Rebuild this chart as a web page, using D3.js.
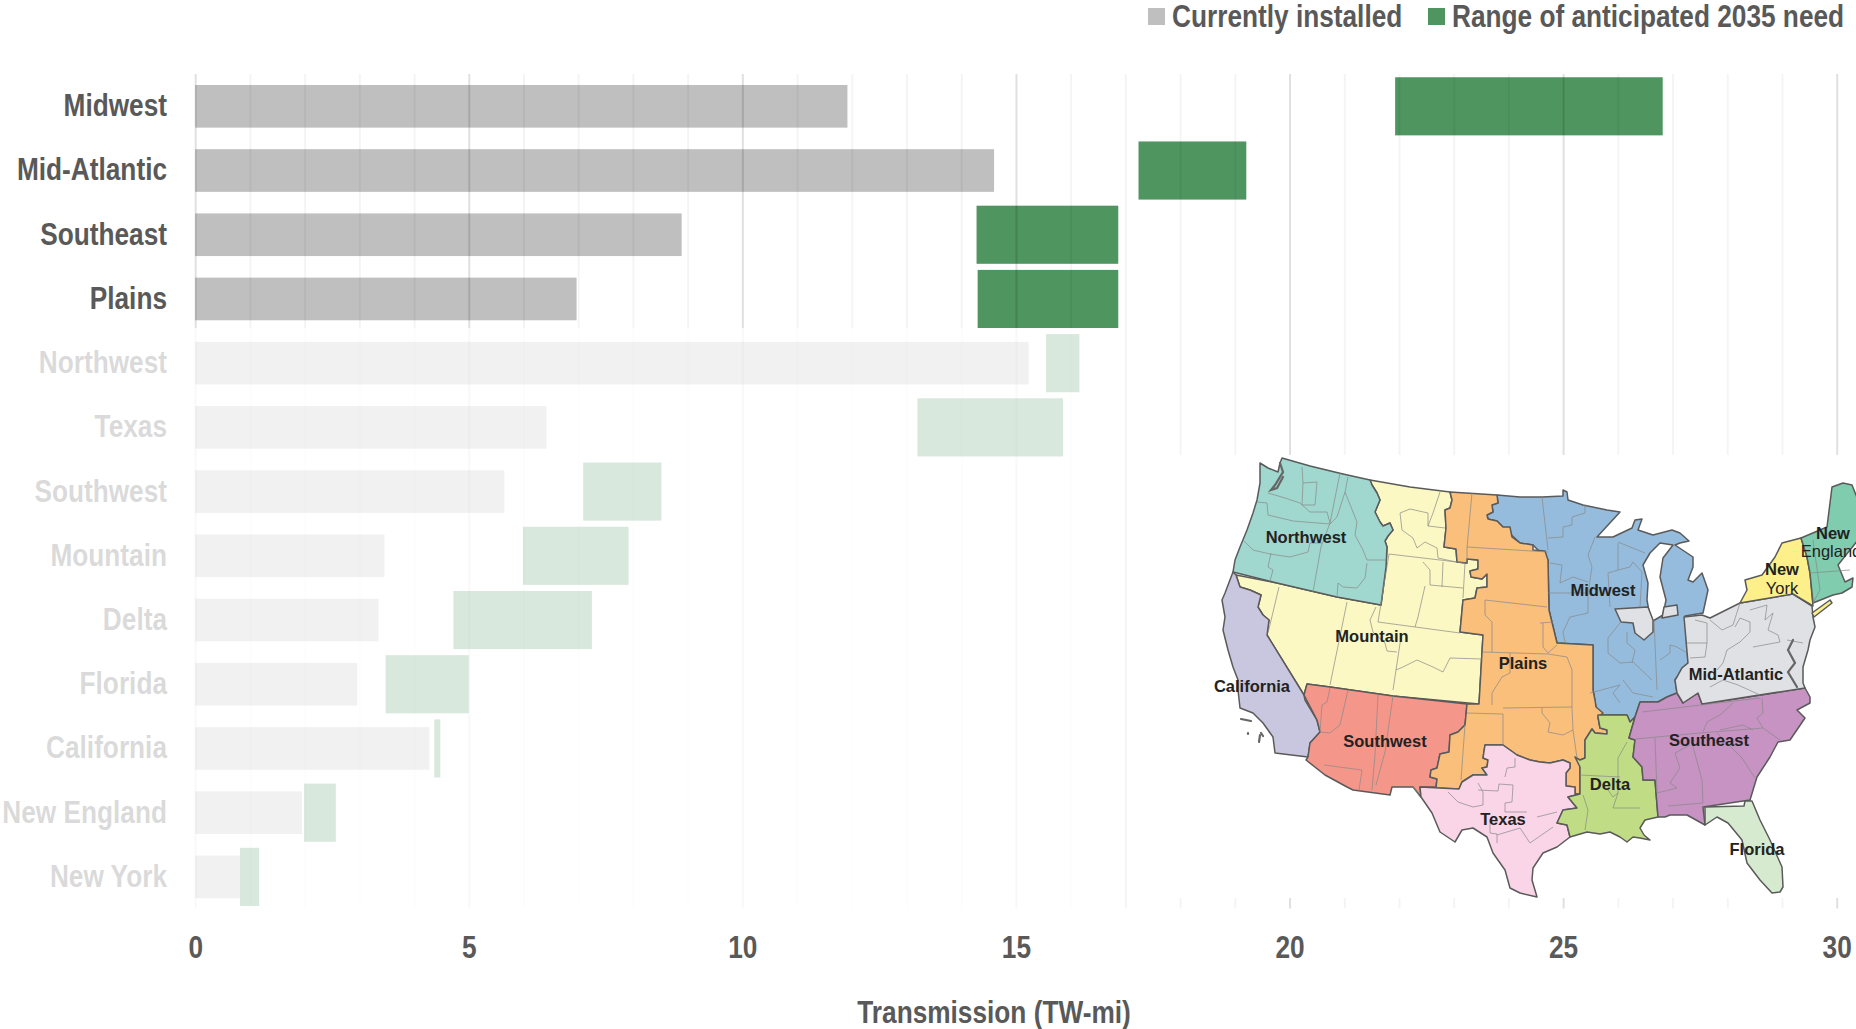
<!DOCTYPE html>
<html>
<head>
<meta charset="utf-8">
<script src="https://cdn.jsdelivr.net/npm/d3@7"></script>
<style>
  html, body { margin: 0; padding: 0; background: #fff; overflow: hidden; }
  text { font-family: "Liberation Sans", Arial, sans-serif; font-weight: 700; fill: #595959; font-size: 32px; }
  .axis path, .axis line { display: none; }
  .grid path { display: none; }
  text.map-label { font-size: 16.5px; fill: #222; }
</style>
</head>
<body>
<div id="chart"></div>
<script>
// bar data (TW-mi)
var regions = ["Midwest", "Mid-Atlantic", "Southeast", "Plains", "Northwest", "Texas", "Southwest", "Mountain", "Delta", "Florida", "California", "New England", "New York"];
var installed = [11.92, 14.6, 8.89, 6.97, 15.23, 6.42, 5.65, 3.46, 3.35, 2.96, 4.28, 1.95, 0.82];
var needLow = [21.93, 17.24, 14.28, 14.3, 15.55, 13.2, 7.09, 5.99, 4.72, 3.48, 4.37, 1.99, 0.82];
var needHigh = [26.82, 19.21, 16.87, 16.87, 16.16, 15.86, 8.52, 7.92, 7.25, 5.0, 4.48, 2.57, 1.17];
var xTicks = [0, 5, 10, 15, 20, 25, 30];
var legendNames = ["Currently installed", "Range of anticipated 2035 need"];

// inset map outlines, in map units (drawn in this order, later ones on top)
var mapMountain = [[170,40],[210,47],[250,52],[252,60],[250,68],[245,70],[246,88],[244,107],[256,109],[257,122],[267,123],[267,119],[278,120],[278,129],[270,131],[271,137],[282,139],[287,134],[287,147],[277,148],[275,158],[263,160],[260,192],[283,195],[279,264],[193,256],[130,247],[107,244],[104,255],[67,195],[69,180],[63,175],[58,167],[61,155],[50,150],[40,147],[36,135],[77,143],[137,157],[181,165],[186,127],[187,107],[185,101],[188,96],[193,90],[190,83],[183,86],[180,82],[175,72],[180,60],[177,53],[172,45]];
var mapNorthwest = [[82,18],[110,26],[143,34],[170,40],[172,45],[177,53],[180,60],[175,72],[180,82],[183,86],[190,83],[193,90],[188,96],[185,101],[187,107],[186,127],[181,165],[137,157],[77,143],[33,132],[35,120],[40,107],[47,90],[53,73],[57,60],[60,43],[60,23],[68,28],[78,32],[80,23]];
var mapCalifornia = [[33,132],[25,153],[22,160],[25,177],[23,190],[28,210],[33,227],[38,240],[38,250],[40,268],[53,273],[63,283],[73,297],[75,313],[108,317],[110,303],[120,292],[117,280],[105,260],[104,255],[67,195],[69,180],[63,175],[58,167],[61,155],[50,150],[40,147],[36,135]];
var mapSouthwest = [[107,244],[130,247],[193,256],[267,264],[265,285],[258,292],[250,295],[249,312],[240,314],[237,328],[231,330],[230,337],[237,339],[236,347],[220,347],[221,357],[213,347],[192,347],[190,355],[153,350],[147,347],[125,335],[106,320],[108,317],[110,303],[120,292],[117,280],[104,255]];
var mapMidwest = [[297,55],[320,57],[342,57],[363,56],[363,50],[367,52],[368,60],[383,65],[407,70],[420,72],[397,97],[413,97],[432,88],[435,80],[442,79],[438,90],[453,95],[472,90],[480,93],[489,101],[480,103],[475,105],[493,117],[493,127],[488,140],[493,142],[502,133],[508,150],[503,173],[485,176],[488,223],[482,228],[477,237],[475,240],[477,253],[467,257],[458,262],[440,262],[435,277],[430,282],[427,275],[400,275],[396,267],[393,250],[393,205],[357,203],[349,170],[348,120],[333,105],[320,103],[303,87],[297,81],[288,79],[287,75],[293,72],[292,65],[298,63]];
var mapLake = [[473,105],[460,103],[450,113],[443,125],[448,143],[447,160],[450,177],[453,181],[463,175],[466,160],[460,137],[463,118]];
var mapChicago = [[415,169],[448,167],[453,180],[453,192],[444,200],[435,193],[433,183],[421,182]];
var mapGaryBit = [[464,167],[477,165],[478,175],[462,178]];
var mapPlains = [[250,52],[297,55],[298,63],[292,65],[293,72],[287,75],[288,79],[297,81],[303,87],[310,87],[312,97],[320,103],[333,105],[333,110],[345,111],[348,120],[349,170],[357,203],[393,205],[393,250],[395,260],[396,267],[403,273],[398,277],[400,288],[407,290],[407,294],[395,293],[392,289],[385,300],[385,318],[380,320],[380,354],[375,354],[375,347],[366,346],[366,333],[370,328],[370,323],[363,320],[350,323],[340,322],[330,320],[317,315],[303,305],[285,305],[283,318],[288,320],[287,327],[282,328],[287,335],[273,335],[262,342],[259,349],[236,348],[237,339],[230,337],[231,330],[237,328],[240,314],[249,312],[250,295],[258,292],[265,285],[267,264],[279,264],[283,195],[260,192],[263,160],[275,158],[277,148],[287,147],[287,134],[282,139],[271,137],[270,131],[278,129],[278,120],[267,119],[267,123],[257,122],[256,109],[244,107],[246,88],[245,70],[250,68],[252,60]];
var mapTexas = [[220,347],[259,349],[262,342],[273,335],[287,335],[282,328],[287,327],[288,320],[283,318],[285,305],[303,305],[317,315],[330,320],[340,322],[350,323],[363,320],[370,323],[370,328],[366,333],[366,346],[375,347],[375,354],[380,354],[368,357],[377,368],[363,370],[357,383],[367,385],[370,397],[357,407],[343,413],[333,428],[332,440],[337,457],[320,453],[310,448],[305,430],[293,413],[287,397],[273,388],[262,390],[255,402],[240,392],[232,373],[221,357]];
var mapDelta = [[398,275],[427,275],[430,282],[435,277],[429,298],[435,300],[433,317],[442,327],[443,340],[455,340],[458,377],[445,380],[440,388],[444,395],[450,400],[440,398],[433,397],[427,402],[420,397],[410,392],[400,394],[387,392],[370,397],[367,385],[357,383],[363,370],[377,368],[368,357],[380,354],[380,327],[375,317],[380,320],[385,318],[385,300],[392,289],[395,293],[407,294],[407,290],[400,288],[398,277]];
var mapSoutheast = [[440,262],[458,262],[467,257],[477,253],[483,263],[498,253],[502,264],[605,248],[610,257],[610,263],[597,270],[605,278],[590,300],[578,302],[570,317],[557,337],[550,360],[503,367],[505,385],[487,375],[470,375],[465,377],[458,377],[455,340],[443,340],[442,327],[433,317],[435,300],[429,298],[435,277]];
var mapFlorida = [[505,367],[544,366],[545,361],[552,361],[560,380],[570,400],[582,427],[583,447],[580,452],[572,453],[560,440],[547,423],[542,400],[528,383],[517,377],[505,385]];
var mapMidAtlantic = [[484,177],[502,175],[510,178],[540,163],[593,154],[612,166],[613,177],[615,187],[610,200],[608,210],[603,227],[603,243],[605,248],[502,264],[498,253],[483,263],[477,253],[475,240],[477,237],[482,228],[488,223]];
var mapNewYork = [[540,163],[547,150],[545,140],[562,135],[575,117],[582,103],[601,98],[607,117],[610,133],[613,166],[593,154]];
var mapLongIsland = [[612,173],[630,160],[632,163],[614,177]];
var mapNewEngland = [[601,98],[627,87],[632,47],[643,43],[652,45],[658,60],[658,100],[638,125],[645,142],[653,138],[652,147],[642,153],[633,155],[613,163],[610,133],[607,117]];
var mapPolys = [mapMountain, mapNorthwest, mapCalifornia, mapSouthwest, mapMidwest, mapLake, mapChicago, mapGaryBit, mapPlains, mapTexas, mapDelta, mapSoutheast, mapFlorida, mapMidAtlantic, mapNewYork, mapLongIsland, mapNewEngland];
var mapFills = ["#fbf8c4", "#a0d8cf", "#c9c7e0", "#f5968a", "#95bcdc", "#ffffff", "#e0e1e4", "#e0e1e4", "#f9bf7b", "#f9d5e7", "#c0dd85", "#c693c2", "#d6eacf", "#e0e1e4", "#fdf08a", "#fdf08a", "#7fccaf"];

// thin state and zone lines inside the regions
var mapInner = [
  [[102,27],[103,43],[117,42],[115,65],[102,65],[103,43]],
  [[140,33],[130,83],[121,107],[113,152]],
  [[148,37],[145,52],[137,77],[130,84]],
  [[145,52],[157,82],[155,95],[163,110],[167,120],[186,120]],
  [[57,62],[67,63],[68,75],[93,81],[130,84]],
  [[68,53],[85,58],[100,63],[110,72],[127,72],[130,83]],
  [[43,100],[53,110],[70,114],[90,117],[108,112],[110,103],[122,103]],
  [[71,113],[68,127],[73,130],[70,141]],
  [[167,123],[165,138],[157,148],[143,147],[138,143],[137,157]],
  [[240,52],[233,73],[228,86],[245,88]],
  [[200,73],[210,69],[228,73],[228,86]],
  [[200,73],[202,90],[213,98],[217,108],[225,102],[237,108],[238,118],[256,122]],
  [[189,114],[240,120],[265,123],[263,158]],
  [[223,122],[230,130],[230,145],[263,148]],
  [[243,122],[242,147]],
  [[225,146],[218,177],[215,187]],
  [[189,114],[178,182],[260,193]],
  [[79,147],[68,193]],
  [[147,162],[130,245]],
  [[176,167],[170,180],[173,192],[185,203],[187,211],[197,212]],
  [[201,197],[193,250]],
  [[196,230],[203,227],[217,220],[233,227],[243,232],[250,218],[282,219]],
  [[130,248],[127,262],[122,265],[120,292]],
  [[148,250],[140,285],[130,293],[120,292]],
  [[178,255],[175,315],[172,350]],
  [[193,256],[185,312],[176,345]],
  [[124,325],[162,330],[159,350]],
  [[213,347],[220,357]],
  [[267,273],[303,274],[303,305]],
  [[265,285],[261,340]],
  [[272,53],[267,108],[267,123]],
  [[267,107],[348,112]],
  [[285,160],[285,175],[292,182],[292,212]],
  [[285,160],[347,167]],
  [[340,183],[353,182]],
  [[343,183],[343,207],[348,213],[357,205]],
  [[283,212],[348,214],[367,217],[372,230],[372,267],[373,290],[377,318]],
  [[310,213],[310,233],[302,237],[292,253],[292,265]],
  [[303,268],[372,267]],
  [[342,268],[342,273],[350,283],[348,292],[363,295],[373,290]],
  [[342,57],[348,110]],
  [[385,65],[385,73],[372,77],[372,85],[363,87],[363,97],[348,98]],
  [[395,97],[388,115],[392,127],[388,153],[388,173],[370,177],[363,192],[365,202]],
  [[348,153],[388,153]],
  [[350,123],[362,125],[360,143],[373,137],[388,142]],
  [[418,103],[418,130],[408,133],[410,167]],
  [[418,102],[445,113]],
  [[418,130],[430,127],[433,122],[442,132],[440,167]],
  [[454,180],[457,250]],
  [[420,183],[408,198],[408,213],[420,223],[433,222],[452,240]],
  [[427,192],[427,203],[435,210],[432,223]],
  [[460,220],[470,213],[470,205],[477,207],[487,213]],
  [[390,253],[420,245],[413,253],[420,263]],
  [[423,240],[433,253],[453,257]],
  [[435,299],[500,293],[563,288],[580,300]],
  [[455,298],[457,353]],
  [[442,272],[560,258]],
  [[562,258],[563,273],[557,278],[563,288]],
  [[492,303],[502,340],[503,363]],
  [[503,292],[507,282],[520,275],[533,263]],
  [[517,293],[527,303],[542,318],[555,338]],
  [[520,290],[543,285],[553,290]],
  [[490,305],[475,313],[480,328],[470,343],[477,348],[457,353]],
  [[468,366],[503,363]],
  [[380,335],[420,337]],
  [[427,302],[418,318],[418,353],[413,368],[440,368]],
  [[383,355],[388,370],[385,390]],
  [[408,350],[413,357],[418,353]],
  [[248,352],[258,362],[273,367],[283,365],[283,352],[278,343]],
  [[278,350],[298,351],[299,344],[313,345],[312,362],[305,363],[305,372],[327,372]],
  [[305,337],[307,328],[315,327],[315,318]],
  [[290,380],[290,393],[297,394],[297,403]],
  [[297,395],[320,388],[330,403],[353,387]],
  [[337,377],[357,372]],
  [[495,180],[507,183],[507,203],[505,217],[490,218]],
  [[487,203],[507,203]],
  [[510,180],[522,190],[533,185],[540,163]],
  [[535,187],[540,178],[550,182],[550,192],[540,202],[527,210],[523,223],[517,230]],
  [[550,170],[567,165],[565,180],[573,173],[568,190],[578,195],[580,202],[553,207]],
  [[587,200],[603,203]],
  [[510,247],[523,240],[538,245],[560,255]],
  [[613,100],[620,150],[613,163]],
  [[610,133],[650,130]]
];
// dark bits along the water: Puget Sound, Chesapeake, the Channel Islands
var mapDark = [
  [[80,23],[83,32],[75,45],[71,50],[77,48],[83,37]],
  [[593,200],[588,210],[595,223],[588,232],[597,247]],
  [[41,279],[51,281]],
  [[60,295],[59,302]],
  [[61,293],[63,296]],
  [[48,293],[48,294]]
];

var mapLabels = ["Northwest", "Mountain", "California", "Midwest", "Plains", "Mid-Atlantic", "Southwest", "Texas", "Delta", "Southeast", "Florida"];
var mapLabelAt = [[106,97],[172,196],[52,246],[403,150],[323,223],[536,234],[185,301],[303,379],[410,344],[509,300],[557,409]];

var narrow = 0.82; // no Arial Narrow here, so squeeze the bold face

var svg = d3.select("#chart").append("svg")
    .attr("width", 1856)
    .attr("height", 1029);

var x = d3.scaleLinear().domain([0, 30]).range([195.2, 1836.7]);
var rowY = d3.scaleBand().domain(regions).range([74.2, 909]);
var step = rowY.step();
var installedH = step * 0.664;
var needH = step * 0.905;

svg.append("g").selectAll("rect")
    .data(regions)
  .enter().append("rect")
    .attr("x", x(0))
    .attr("y", function(d) { return rowY(d) + (step - installedH) / 2; })
    .attr("width", function(d, i) { return x(installed[i]) - x(0); })
    .attr("height", installedH)
    .style("fill", "#bfbfbf");

svg.append("g").selectAll("rect")
    .data(regions)
  .enter().append("rect")
    .attr("x", function(d, i) { return x(needLow[i]); })
    .attr("y", function(d) { return rowY(d) + (step - needH) / 2; })
    .attr("width", function(d, i) { return x(needHigh[i]) - x(needLow[i]); })
    .attr("height", needH)
    .style("fill", "#4e9560");

// gridlines sit on top of the bars in the original
var grid = svg.append("g")
    .attr("class", "grid")
    .attr("transform", "translate(0,908.6)")
    .call(d3.axisBottom(x).tickValues(d3.range(0, 31)).tickSize(-834.6).tickFormat(""));
grid.selectAll("line")
    .style("stroke", "#000")
    .style("stroke-width", 2)
    .style("stroke-opacity", function(d) { return d % 5 === 0 ? 0.12 : 0.045; });

var yAxis = svg.append("g")
    .attr("class", "axis")
    .attr("transform", "translate(167,0)")
    .call(d3.axisLeft(rowY).tickSize(0).tickPadding(0));
yAxis.selectAll("text")
    .style("font-size", "32px")
    .style("font-family", null)
    .attr("x", 0)
    .attr("dy", "0.31em")
    .attr("transform", "scale(" + narrow + ",1)");

// white veil that fades the lower nine rows
svg.append("rect")
    .attr("x", 0)
    .attr("y", 328)
    .attr("width", 1098)
    .attr("height", 582)
    .style("fill", "#fff")
    .style("fill-opacity", 0.78);

var xAxis = svg.append("g")
    .attr("class", "axis")
    .attr("transform", "translate(0,935)")
    .call(d3.axisBottom(x).tickValues(xTicks).tickSize(0).tickPadding(0));
xAxis.selectAll("text")
    .style("font-size", "32px")
    .style("font-family", null)
    .attr("transform", "scale(" + narrow + ",1)");

svg.append("text")
    .attr("transform", "translate(994,1023) scale(" + narrow + ",1)")
    .attr("text-anchor", "middle")
    .text("Transmission (TW-mi)");

// legend
var legendX = [1148, 1428];
var legendColors = ["#bfbfbf", "#4e9560"];
var legend = svg.append("g").selectAll("g")
    .data(legendNames)
  .enter().append("g")
    .attr("transform", function(d, i) { return "translate(" + legendX[i] + ",0)"; });
legend.append("rect")
    .attr("y", 8)
    .attr("width", 17)
    .attr("height", 17)
    .style("fill", function(d, i) { return legendColors[i]; });
legend.append("text")
    .attr("transform", "translate(24,27) scale(" + narrow + ",1)")
    .text(function(d) { return d; });

// inset map on its own white patch
svg.append("rect")
    .attr("x", 1150)
    .attr("y", 455)
    .attr("width", 706)
    .attr("height", 443)
    .style("fill", "#fff");

var mapX = d3.scaleLinear().domain([0, 656]).range([1200, 1856]);
var mapY = d3.scaleLinear().domain([0, 480]).range([440, 920]);
var mapLine = d3.line()
    .x(function(d) { return mapX(d[0]); })
    .y(function(d) { return mapY(d[1]); });

var map = svg.append("g");
map.selectAll("path.region")
    .data(mapPolys)
  .enter().append("path")
    .attr("class", "region")
    .attr("d", function(d) { return mapLine(d) + "Z"; })
    .style("fill", function(d, i) { return mapFills[i]; })
    .style("stroke", "#5a5a5a")
    .style("stroke-width", 1.5)
    .style("stroke-linejoin", "round");

map.selectAll("path.inner")
    .data(mapInner)
  .enter().append("path")
    .attr("class", "inner")
    .attr("d", mapLine)
    .style("fill", "none")
    .style("stroke", "#888")
    .style("stroke-width", 0.7);

map.selectAll("path.dark")
    .data(mapDark)
  .enter().append("path")
    .attr("class", "dark")
    .attr("d", mapLine)
    .style("fill", "none")
    .style("stroke", "#666")
    .style("stroke-width", 2.2)
    .style("stroke-linecap", "round");

map.selectAll("text.map-label")
    .data(mapLabels)
  .enter().append("text")
    .attr("class", "map-label")
    .attr("x", function(d, i) { return mapX(mapLabelAt[i][0]); })
    .attr("y", function(d, i) { return mapY(mapLabelAt[i][1]); })
    .attr("text-anchor", "middle")
    .attr("dy", "0.35em")
    .text(function(d) { return d; });

// two line names: "New" is heavier than the word under it
var newLines = [["New", 633, 93, 700], ["England", 631, 111, 400], ["New", 582, 129, 700], ["York", 582, 148, 400]];
map.selectAll("text.map-new")
    .data(newLines)
  .enter().append("text")
    .attr("class", "map-label map-new")
    .attr("x", function(d) { return mapX(d[1]); })
    .attr("y", function(d) { return mapY(d[2]); })
    .attr("text-anchor", "middle")
    .attr("dy", "0.35em")
    .style("font-weight", function(d) { return d[3]; })
    .text(function(d) { return d[0]; });
</script>
</body>
</html>
